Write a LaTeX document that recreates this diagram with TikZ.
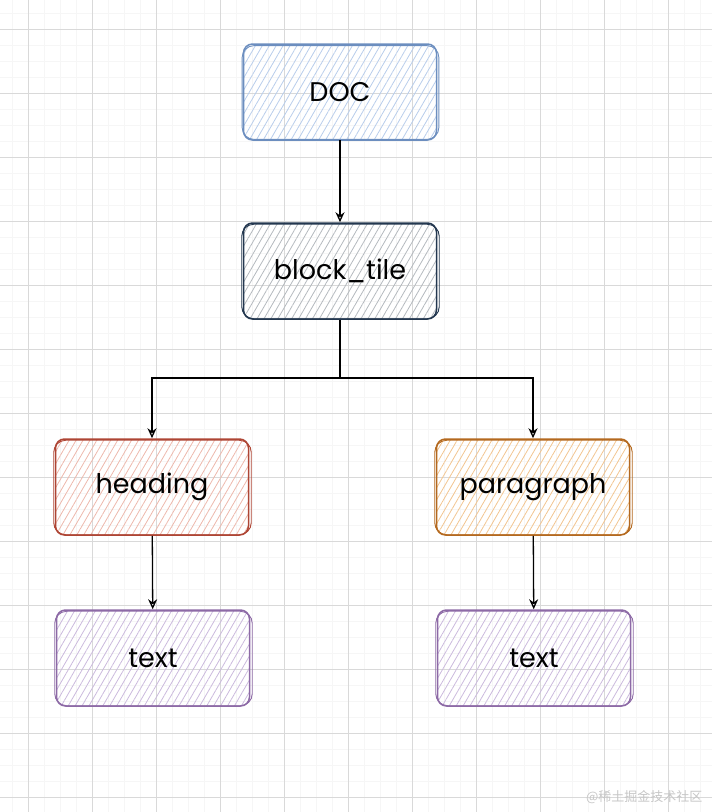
\documentclass[tikz,border=0pt]{standalone}
\usepackage{fontspec}
\setmainfont{Poppins}
\newfontfamily\cjk{Noto Sans CJK SC}
\usepackage{tikz}
\usetikzlibrary{positioning, arrows.meta, calc, patterns.meta}

\definecolor{docline}{HTML}{6C8EBF}
\definecolor{docfill}{HTML}{B8CDEB}
\definecolor{tileline}{HTML}{23374F}
\definecolor{tilefill}{HTML}{B4B9BE}
\definecolor{headline}{HTML}{AE4534}
\definecolor{headfill}{HTML}{EDB8AC}
\definecolor{paraline}{HTML}{B4691F}
\definecolor{parafill}{HTML}{F2C590}
\definecolor{textline}{HTML}{8D6AA6}
\definecolor{textfill}{HTML}{CBBADD}

\tikzset{
  box/.style={draw=#1line, line width=1.5pt, rounded corners=9pt,
    minimum width=193pt, minimum height=96pt,
    font=\fontsize{27}{32}\selectfont,
    pattern={Lines[angle=60,distance=6pt,line width=0.8pt]}, pattern color=#1fill},
  arr/.style={-{Stealth[open,length=10pt,width=9pt]}, line width=1.3pt},
  gridminor/.style={gray!7, line width=0.6pt},
  gridmajor/.style={gray!30, line width=0.7pt}
}

\begin{document}
\begin{tikzpicture}[x=1pt,y=-1pt]
\useasboundingbox (0,0) rectangle (712,812);
% background grid
\foreach \x in {12,28,...,712} \draw[gridminor] (\x,0) -- (\x,812);
\foreach \y in {13,29,...,812} \draw[gridminor] (0,\y) -- (712,\y);
\foreach \x in {28,92,...,712} \draw[gridmajor] (\x,0) -- (\x,812);
\foreach \y in {29,93,...,812} \draw[gridmajor] (0,\y) -- (712,\y);

\node[box=doc] (doc) at (340,92) {DOC};
\node[box=tile] (tile) at (340,271) {block\_tile};
\node[box=head] (heading) at (152,487) {heading};
\node[box=para] (para) at (533,487) {paragraph};
\node[box=text] (textl) at (153,658) {text};
\node[box=text] (textr) at (534,658) {text};

% second pencil stroke
\foreach \n/\c in {doc/docline, tile/tileline, heading/headline, para/paraline, textl/textline, textr/textline}
  \draw[\c, line width=0.9pt, rounded corners=12pt] ([shift={(-1,2)}]\n.north west) rectangle ([shift={(2,-1)}]\n.south east);

\coordinate (fork) at (340,378);
\draw[arr] (doc) -- (tile);
\draw[line width=1.3pt] (tile) -- (fork);
\draw[arr] (fork) -| (heading);
\draw[arr] (fork) -| (para);
\draw[arr] (heading) -- (textl);
\draw[arr] (para) -- (textr);

\node[anchor=east, text=gray!45, font=\cjk\fontsize{13}{15}\selectfont] (mark) at (706,797) {@稀土掘金技术社区};
\end{tikzpicture}
\end{document}
